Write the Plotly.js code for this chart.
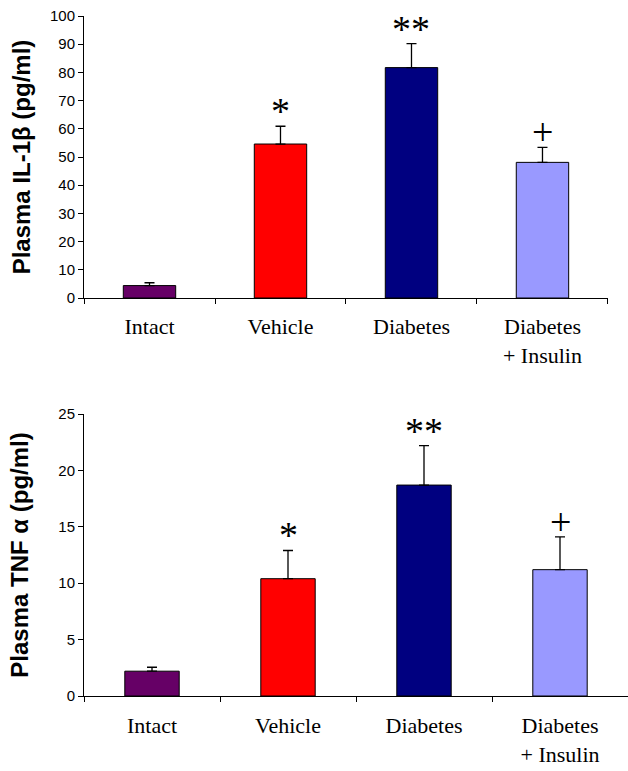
<!DOCTYPE html>
<html>
<head>
<meta charset="utf-8">
<script src="https://cdn.plot.ly/plotly-3.0.1.min.js"></script>
<style>html,body{margin:0;padding:0;background:#fff;}</style>
</head>
<body>
<div id="chart" style="width:628px;height:771px;"></div>
<script>
const categories = ['Intact', 'Vehicle', 'Diabetes', 'Diabetes<br>+ Insulin'];
const barColors = ['#660066', '#FF0000', '#000080', '#9999FF'];
const il1bValues = [4.4, 54.6, 81.7, 48.1];
const il1bErrors = [1.0, 6.3, 8.5, 5.3];
const tnfValues = [2.2, 10.4, 18.7, 11.2];
const tnfErrors = [0.35, 2.5, 3.5, 2.9];
const sigMarks = ['', '*', '**', '+'];
const il1bTicks = [0, 10, 20, 30, 40, 50, 60, 70, 80, 90, 100];
const tnfTicks = [0, 5, 10, 15, 20, 25];

const zeros = categories.map(() => 0);

function barTrace(vals, errs, xa, ya) {
  return {
    type: 'bar', x: categories, y: vals, xaxis: xa, yaxis: ya,
    width: 0.4,
    marker: {color: barColors, line: {color: '#000', width: 1}},
    error_y: {type: 'data', symmetric: false, array: errs, arrayminus: zeros,
              color: '#000', thickness: 1.3, width: 5},
    hoverinfo: 'none'
  };
}

const annotations = [];
function addMarks(vals, errs, xr, yr, shift) {
  categories.forEach((c, i) => {
    if (!sigMarks[i]) return;
    annotations.push({
      xref: xr, yref: yr, x: c, y: vals[i] + errs[i],
      text: sigMarks[i], showarrow: false, yanchor: 'bottom',
      yshift: sigMarks[i] === '+' ? -8 : shift,
      font: {family: 'Liberation Serif, Times New Roman, serif', size: 38, color: '#000'}
    });
  });
}
addMarks(il1bValues, il1bErrors, 'x', 'y', -8);
addMarks(tnfValues, tnfErrors, 'x2', 'y2', -8);

const xCommon = {
  type: 'category', range: [-0.5, 3.5], tickson: 'boundaries',
  ticks: 'outside', ticklen: 5, tickcolor: '#000', tickwidth: 1,
  showline: true, linecolor: '#000', linewidth: 1, showgrid: false,
  tickfont: {family: 'Liberation Serif, Times New Roman, serif', size: 22, color: '#000'},
  ticklabelstandoff: 9, fixedrange: true
};
const yCommon = {
  ticks: 'outside', ticklen: 5, tickcolor: '#000', tickwidth: 1,
  showline: true, linecolor: '#000', linewidth: 1, showgrid: false, zeroline: false,
  tickfont: {family: 'Liberation Sans, Arial, sans-serif', size: 15, color: '#000'},
  fixedrange: true
};
const titleFont = {family: 'Liberation Sans, Arial, sans-serif', size: 24, color: '#000', weight: 'bold'};

const layout = {
  width: 628, height: 771,
  margin: {l: 84, r: 0, t: 16, b: 75},
  paper_bgcolor: '#fff', plot_bgcolor: '#fff',
  showlegend: false,
  xaxis: Object.assign({}, xCommon, {domain: [0, 0.9632], anchor: 'y'}),
  yaxis: Object.assign({}, yCommon, {domain: [0.5853, 1], anchor: 'x', range: [0, 100],
    tickvals: il1bTicks, title: {text: 'Plasma IL-1β (pg/ml)', font: titleFont, standoff: 12}}),
  xaxis2: Object.assign({}, xCommon, {domain: [0, 1], anchor: 'y2', ticklabelstandoff: 10}),
  yaxis2: Object.assign({}, yCommon, {domain: [0, 0.4147], anchor: 'x2', range: [0, 25],
    tickvals: tnfTicks, title: {text: 'Plasma TNF α (pg/ml)', font: titleFont, standoff: 22}}),
  annotations: annotations
};

Plotly.newPlot('chart', [
  barTrace(il1bValues, il1bErrors, 'x', 'y'),
  barTrace(tnfValues, tnfErrors, 'x2', 'y2')
], layout, {displayModeBar: false, staticPlot: true});
</script>
</body>
</html>
